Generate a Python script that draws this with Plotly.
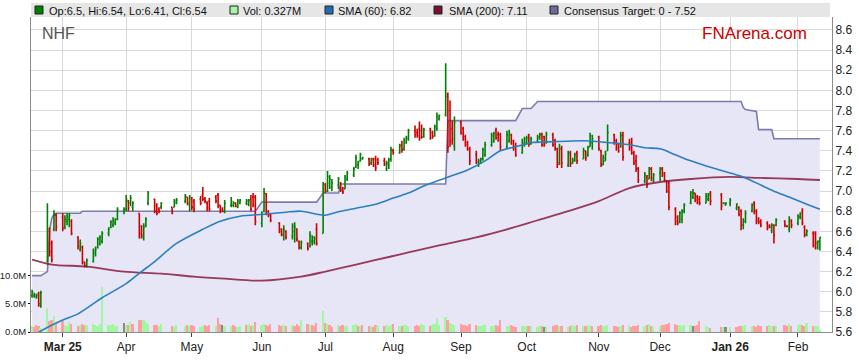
import plotly.graph_objects as go
import pandas as pd

# ---------------- data ----------------
asx_holidays = ['2025-04-18', '2025-04-21', '2025-04-25', '2025-06-09',
                '2025-12-25', '2025-12-26', '2026-01-01', '2026-01-26']
dates = pd.bdate_range('2025-02-17', '2026-02-12', freq='C', holidays=asx_holidays)

open_ = [
    5.96, 5.96, 5.95, 5.98, 5.86, 6.30, 6.60, 6.48, 6.62, 6.76,
    6.74, 6.64, 6.70, 6.72, 6.70, 6.54, 6.42, 6.44, 6.29, 6.26, 6.30, 6.38, 6.44, 6.48, 6.50, 6.58, 6.64, 6.66, 6.68, 6.72, 6.80,
    6.82, 6.90, 6.88, 6.84, 6.78, 6.65, 6.54, 6.66, 6.88, 6.92, 6.86, 6.82, 6.84, 6.84, 6.84, 6.88, 6.90, 6.94, 6.86,
    6.92, 6.90, 6.92, 6.96, 6.92, 6.88, 6.90, 6.94, 6.96, 6.86, 6.82, 6.80, 6.86, 6.86, 6.88, 6.84, 6.88, 6.88, 6.87, 6.92, 6.94, 6.94,
    6.68, 6.80, 6.97, 6.80, 6.77, 6.68, 6.62, 6.56, 6.60, 6.55, 6.60, 6.62, 6.50, 6.44, 6.48, 6.45, 6.50, 6.50, 6.62, 6.58,
    7.06, 7.00, 7.08, 7.04, 7.06, 7.08, 7.03, 7.02, 7.12, 7.16, 7.24, 7.26, 7.30, 7.32, 7.32, 7.28, 7.32, 7.32, 7.31, 7.30, 7.22, 7.26, 7.32,
    7.40, 7.38, 7.46, 7.42, 7.48, 7.52, 7.60, 7.58, 7.62, 7.60, 7.54, 7.62, 7.58, 7.55, 7.62, 7.72, 7.76, 7.96, 7.80, 7.62, 7.45,
    7.68, 7.62, 7.54, 7.48, 7.42, 7.36, 7.26, 7.28, 7.32, 7.36, 7.46, 7.50, 7.60, 7.56, 7.56, 7.44, 7.50, 7.56, 7.50, 7.42, 7.38, 7.46,
    7.48, 7.56, 7.47, 7.50, 7.52, 7.57, 7.54, 7.48, 7.56, 7.50, 7.42, 7.28, 7.42, 7.26, 7.38, 7.28, 7.30, 7.38, 7.32, 7.40, 7.36, 7.44, 7.48,
    7.54, 7.40, 7.26, 7.30, 7.40, 7.56, 7.50, 7.46, 7.44, 7.56, 7.48, 7.48, 7.38, 7.30, 7.22, 7.10, 7.14, 7.12, 7.22, 7.10,
    7.18, 7.22, 7.18, 7.10, 7.08, 6.82, 6.74, 6.70, 6.72, 6.80, 6.88, 6.94, 6.98, 6.94, 6.92, 6.88, 6.92, 6.98, 6.96, 6.88, 6.86,
    6.88, 6.83, 6.84, 6.80, 6.66, 6.70, 6.80, 6.88, 6.80, 6.72, 6.70, 6.68, 6.65, 6.61, 6.66, 6.66, 6.70, 6.65, 6.62, 6.70,
    6.68, 6.74, 6.80, 6.64, 6.56, 6.58, 6.58, 6.44, 6.50,
]
high = [
    6.02, 5.99, 5.98, 6.00, 6.01, 6.88, 6.64, 6.51, 6.81, 6.78,
    6.78, 6.76, 6.78, 6.78, 6.72, 6.55, 6.52, 6.46, 6.30, 6.33, 6.43, 6.45, 6.54, 6.56, 6.60, 6.64, 6.71, 6.74, 6.73, 6.84, 6.84,
    6.96, 6.91, 6.96, 6.90, 6.78, 6.66, 6.68, 6.74, 7.00, 6.92, 6.88, 6.84, 6.89, 6.84, 6.92, 6.93, 6.97, 6.94, 6.96,
    6.94, 6.92, 6.95, 7.04, 6.94, 6.90, 6.93, 6.96, 6.98, 6.86, 6.84, 6.91, 6.94, 6.90, 6.89, 6.92, 6.92, 6.92, 6.92, 6.96, 6.98, 6.96,
    6.80, 7.03, 6.98, 6.81, 6.78, 6.69, 6.63, 6.66, 6.61, 6.68, 6.69, 6.63, 6.51, 6.51, 6.49, 6.60, 6.56, 6.55, 6.68, 7.09,
    7.08, 7.20, 7.16, 7.12, 7.14, 7.09, 7.04, 7.16, 7.20, 7.24, 7.36, 7.30, 7.38, 7.34, 7.33, 7.33, 7.33, 7.35, 7.33, 7.33, 7.30, 7.33, 7.44,
    7.42, 7.47, 7.50, 7.53, 7.55, 7.62, 7.65, 7.62, 7.69, 7.66, 7.63, 7.63, 7.60, 7.66, 7.78, 7.76, 8.27, 7.98, 7.90, 7.70, 7.74,
    7.70, 7.64, 7.56, 7.50, 7.44, 7.40, 7.32, 7.33, 7.43, 7.49, 7.58, 7.59, 7.63, 7.59, 7.58, 7.60, 7.61, 7.57, 7.51, 7.48, 7.52, 7.54,
    7.55, 7.57, 7.54, 7.56, 7.58, 7.58, 7.55, 7.59, 7.58, 7.52, 7.43, 7.47, 7.45, 7.40, 7.40, 7.33, 7.38, 7.40, 7.43, 7.40, 7.45, 7.58, 7.56,
    7.55, 7.41, 7.36, 7.40, 7.66, 7.57, 7.52, 7.48, 7.59, 7.59, 7.52, 7.53, 7.40, 7.36, 7.24, 7.19, 7.16, 7.24, 7.24, 7.18,
    7.24, 7.24, 7.19, 7.11, 7.10, 6.84, 6.76, 6.80, 6.82, 6.88, 7.00, 7.02, 6.98, 6.96, 6.95, 6.98, 6.98, 7.00, 6.98, 6.89, 6.89,
    6.93, 6.88, 6.85, 6.82, 6.73, 6.81, 6.88, 6.90, 6.82, 6.74, 6.72, 6.70, 6.67, 6.68, 6.67, 6.73, 6.71, 6.66, 6.75, 6.72,
    6.77, 6.79, 6.83, 6.66, 6.62, 6.60, 6.60, 6.51, 6.54,
]
low = [
    5.94, 5.94, 5.93, 5.85, 5.84, 6.29, 6.35, 6.29, 6.60, 6.60,
    6.60, 6.62, 6.66, 6.64, 6.56, 6.42, 6.40, 6.27, 6.24, 6.24, 6.29, 6.35, 6.43, 6.46, 6.48, 6.55, 6.63, 6.64, 6.66, 6.71, 6.77,
    6.80, 6.80, 6.85, 6.80, 6.53, 6.53, 6.51, 6.64, 6.86, 6.78, 6.76, 6.78, 6.82, 6.77, 6.84, 6.87, 6.88, 6.86, 6.80,
    6.81, 6.79, 6.86, 6.90, 6.88, 6.80, 6.80, 6.88, 6.83, 6.78, 6.79, 6.78, 6.84, 6.84, 6.84, 6.83, 6.87, 6.86, 6.85, 6.80, 6.84, 6.66,
    6.64, 6.79, 6.76, 6.74, 6.69, 6.58, 6.55, 6.51, 6.52, 6.52, 6.49, 6.50, 6.42, 6.42, 6.41, 6.44, 6.46, 6.47, 6.46, 6.58,
    6.98, 6.99, 7.02, 7.00, 7.02, 6.99, 6.97, 7.02, 7.10, 7.14, 7.23, 7.22, 7.29, 7.31, 7.25, 7.26, 7.24, 7.20, 7.26, 7.25, 7.20, 7.22, 7.29,
    7.36, 7.37, 7.38, 7.40, 7.47, 7.50, 7.53, 7.53, 7.50, 7.52, 7.53, 7.51, 7.52, 7.54, 7.60, 7.70, 7.74, 7.38, 7.44, 7.46, 7.40,
    7.56, 7.50, 7.44, 7.40, 7.26, 7.27, 7.24, 7.27, 7.30, 7.34, 7.44, 7.48, 7.51, 7.49, 7.40, 7.42, 7.48, 7.46, 7.40, 7.34, 7.37, 7.44,
    7.46, 7.44, 7.46, 7.48, 7.51, 7.44, 7.44, 7.47, 7.44, 7.40, 7.23, 7.26, 7.23, 7.24, 7.24, 7.27, 7.29, 7.27, 7.32, 7.30, 7.34, 7.44, 7.41,
    7.40, 7.24, 7.26, 7.30, 7.40, 7.46, 7.40, 7.38, 7.43, 7.30, 7.40, 7.36, 7.26, 7.19, 7.08, 7.08, 7.03, 7.12, 7.10, 7.09,
    7.10, 7.14, 7.09, 6.98, 6.81, 6.66, 6.66, 6.68, 6.68, 6.78, 6.87, 6.92, 6.89, 6.87, 6.86, 6.88, 6.90, 6.86, 6.81, 6.87, 6.86,
    6.85, 6.81, 6.75, 6.61, 6.62, 6.68, 6.79, 6.77, 6.67, 6.67, 6.64, 6.61, 6.63, 6.58, 6.48, 6.65, 6.64, 6.64, 6.59, 6.63,
    6.66, 6.72, 6.66, 6.54, 6.55, 6.44, 6.42, 6.42, 6.41,
]
close = [
    6.00, 5.97, 5.96, 5.88, 5.99, 6.62, 6.40, 6.32, 6.76, 6.64,
    6.63, 6.72, 6.75, 6.76, 6.58, 6.45, 6.48, 6.30, 6.26, 6.31, 6.40, 6.42, 6.52, 6.54, 6.58, 6.62, 6.69, 6.70, 6.72, 6.82, 6.82,
    6.92, 6.83, 6.93, 6.88, 6.58, 6.56, 6.64, 6.72, 6.98, 6.80, 6.78, 6.80, 6.88, 6.78, 6.90, 6.91, 6.95, 6.88, 6.94,
    6.84, 6.82, 6.88, 6.92, 6.90, 6.83, 6.82, 6.90, 6.85, 6.80, 6.80, 6.88, 6.90, 6.88, 6.85, 6.90, 6.91, 6.90, 6.91, 6.82, 6.86, 6.70,
    6.77, 6.98, 6.80, 6.76, 6.71, 6.60, 6.57, 6.62, 6.54, 6.65, 6.64, 6.52, 6.44, 6.49, 6.43, 6.56, 6.54, 6.53, 6.48, 7.02,
    7.00, 7.14, 7.12, 7.08, 7.12, 7.01, 6.99, 7.14, 7.18, 7.22, 7.33, 7.28, 7.36, 7.33, 7.27, 7.31, 7.26, 7.23, 7.28, 7.27, 7.28, 7.31, 7.41,
    7.38, 7.45, 7.41, 7.50, 7.53, 7.60, 7.56, 7.55, 7.53, 7.54, 7.61, 7.53, 7.54, 7.64, 7.74, 7.75, 7.94, 7.44, 7.50, 7.52, 7.68,
    7.58, 7.52, 7.46, 7.42, 7.30, 7.29, 7.30, 7.32, 7.41, 7.46, 7.55, 7.57, 7.53, 7.51, 7.44, 7.56, 7.58, 7.48, 7.44, 7.36, 7.48, 7.52,
    7.53, 7.47, 7.52, 7.54, 7.56, 7.46, 7.46, 7.56, 7.46, 7.42, 7.26, 7.42, 7.28, 7.36, 7.27, 7.31, 7.36, 7.30, 7.40, 7.33, 7.43, 7.55, 7.52,
    7.42, 7.27, 7.33, 7.37, 7.58, 7.48, 7.43, 7.40, 7.55, 7.34, 7.43, 7.38, 7.28, 7.22, 7.11, 7.16, 7.06, 7.22, 7.13, 7.16,
    7.22, 7.16, 7.11, 7.00, 6.84, 6.70, 6.68, 6.78, 6.80, 6.86, 6.98, 6.98, 6.91, 6.89, 6.88, 6.95, 6.96, 6.90, 6.85, 6.88, 6.88,
    6.91, 6.87, 6.77, 6.66, 6.70, 6.78, 6.86, 6.80, 6.70, 6.69, 6.66, 6.63, 6.64, 6.66, 6.56, 6.71, 6.66, 6.65, 6.72, 6.66,
    6.75, 6.78, 6.68, 6.57, 6.60, 6.46, 6.48, 6.50, 6.54,
]
volume_m = [
    1.0, 0.8, 1.2, 1.1, 0.7, 4.2, 1.9, 2.1, 2.8, 1.6,
    1.9, 1.3, 1.1, 1.7, 1.4, 1.0, 1.3, 1.4, 1.2, 1.3, 1.5, 1.2, 1.0, 1.4, 8.0, 1.3, 1.2, 1.5, 1.1, 1.0, 1.6,
    1.3, 1.3, 1.7, 1.5, 2.2, 2.1, 2.2, 1.8, 1.5, 1.2, 1.3, 1.0, 1.4, 1.1, 0.9, 1.2, 1.0, 1.3, 1.1,
    1.2, 1.0, 0.8, 1.1, 1.3, 1.0, 1.2, 1.1, 2.5, 1.4, 1.2, 1.0, 1.1, 1.3, 1.0, 0.9, 1.1, 1.2, 1.4, 1.0, 1.2, 1.8,
    1.3, 1.5, 1.2, 1.0, 1.4, 1.2, 1.0, 1.3, 1.1, 1.2, 1.0, 1.4, 1.1, 2.2, 1.5, 1.3, 1.2, 1.1, 1.6, 3.8,
    1.6, 1.4, 1.2, 0.9, 1.2, 1.0, 1.3, 1.1, 1.0, 1.2, 1.5, 1.1, 1.0, 1.3, 1.1, 1.0, 0.9, 1.2, 1.0, 1.1, 1.3, 1.0, 1.2,
    1.5, 1.1, 1.0, 1.3, 1.2, 1.1, 1.0, 1.2, 1.1, 1.4, 1.2, 1.1, 1.3, 1.5, 2.4, 1.2, 2.6, 2.2, 1.6, 1.4, 1.3,
    1.4, 1.2, 1.3, 1.1, 1.5, 1.2, 1.0, 1.1, 1.2, 1.3, 1.1, 1.0, 1.2, 1.1, 2.2, 1.1, 1.0, 1.2, 1.0, 0.9, 1.1, 1.0,
    1.0, 1.1, 1.0, 0.9, 1.0, 1.1, 0.8, 1.0, 1.1, 1.2, 1.3, 1.0, 1.1, 0.9, 1.0, 1.2, 1.0, 1.3, 1.1, 1.0, 1.1, 1.2, 1.0,
    1.1, 1.3, 1.0, 1.1, 1.2, 1.0, 1.1, 0.9, 1.0, 1.2, 1.1, 0.9, 1.0, 1.1, 1.3, 1.0, 1.2, 1.4, 1.0, 1.1,
    1.1, 1.2, 1.3, 1.4, 1.6, 1.5, 1.3, 1.2, 1.1, 1.3, 1.2, 1.1, 1.0, 1.2, 1.9, 1.0, 0.8, 0.7, 0.8, 0.9, 0.8,
    0.8, 0.9, 1.0, 1.1, 1.0, 1.2, 1.1, 1.0, 0.9, 1.2, 1.0, 1.1, 1.3, 1.0, 1.1, 1.0, 1.2, 1.0, 1.4, 1.1,
    1.3, 1.5, 1.2, 1.1, 1.6, 1.0, 1.1, 1.0, 0.327,
]

sma60_dates = ['2025-02-17', '2025-02-21', '2025-03-03', '2025-03-10', '2025-03-21', '2025-04-01',
               '2025-04-08', '2025-04-14', '2025-04-24', '2025-05-06', '2025-05-14', '2025-05-23',
               '2025-06-03', '2025-06-13', '2025-06-20', '2025-06-27', '2025-07-01', '2025-07-08',
               '2025-07-15', '2025-07-24', '2025-08-01', '2025-08-08', '2025-08-15', '2025-08-25',
               '2025-09-04', '2025-09-12', '2025-09-19', '2025-09-26', '2025-10-03', '2025-10-13',
               '2025-10-27', '2025-11-03', '2025-11-17', '2025-11-24', '2025-12-01', '2025-12-08',
               '2025-12-15', '2025-12-22', '2026-01-02', '2026-01-09', '2026-01-16', '2026-01-23',
               '2026-01-30', '2026-02-06', '2026-02-12']
sma60_vals = [5.55, 5.61, 5.72, 5.78, 5.94, 6.08,
              6.20, 6.30, 6.48, 6.62, 6.70, 6.75,
              6.77, 6.79, 6.80, 6.77, 6.76, 6.80,
              6.83, 6.87, 6.93, 6.98, 7.05, 7.13,
              7.21, 7.30, 7.40, 7.44, 7.48, 7.49,
              7.50, 7.49, 7.46, 7.43, 7.42, 7.36,
              7.30, 7.25, 7.18, 7.13, 7.06, 6.99,
              6.93, 6.87, 6.82]

sma200_dates = ['2025-02-17', '2025-02-26', '2025-03-14', '2025-03-31', '2025-04-17', '2025-05-02',
                '2025-05-16', '2025-06-02', '2025-06-20', '2025-07-01', '2025-07-15', '2025-07-31',
                '2025-08-08', '2025-08-22', '2025-09-08', '2025-09-22', '2025-10-06', '2025-10-20',
                '2025-11-03', '2025-11-17', '2025-12-01', '2025-12-15', '2026-01-02', '2026-01-16',
                '2026-02-02', '2026-02-12']
sma200_vals = [6.32, 6.27, 6.25, 6.20, 6.18, 6.15,
               6.13, 6.11, 6.15, 6.20, 6.27, 6.35,
               6.39, 6.46, 6.54, 6.62, 6.71, 6.80,
               6.90, 7.03, 7.09, 7.12, 7.14, 7.13,
               7.12, 7.11]

target_dates = ['2025-02-17', '2025-02-21', '2025-02-24', '2025-02-25', '2025-02-26', '2025-02-27',
                '2025-02-28', '2025-03-11', '2025-03-12', '2025-05-30', '2025-06-02', '2025-06-27',
                '2025-06-30', '2025-07-07', '2025-07-08', '2025-08-25', '2025-08-26', '2025-09-26',
                '2025-09-29', '2025-10-03', '2025-10-06', '2026-01-07', '2026-01-08', '2026-01-09',
                '2026-01-14', '2026-01-15', '2026-01-21', '2026-01-22', '2026-02-12']
target_vals = [6.16, 6.16, 6.20, 6.62, 6.73, 6.77,
               6.78, 6.78, 6.80, 6.80, 6.89, 6.89,
               6.98, 6.98, 7.07, 7.07, 7.70, 7.70,
               7.82, 7.82, 7.89, 7.89, 7.83, 7.81,
               7.79, 7.61, 7.61, 7.52, 7.52]

month_ticks = ['2025-03-03', '2025-04-01', '2025-05-01', '2025-06-02', '2025-07-01', '2025-08-01',
               '2025-09-01', '2025-10-01', '2025-11-03', '2025-12-01', '2026-01-02', '2026-02-02']
month_labels = ['<b>Mar 25</b>', 'Apr', 'May', 'Jun', 'Jul', 'Aug',
                'Sep', 'Oct', 'Nov', 'Dec', '<b>Jan 26</b>', 'Feb']

# ---------------- figure ----------------
W, H = 859, 363
ML, MR, MT, MB = 31, 27, 17, 31
PW, PH = W - ML - MR, H - MT - MB


def fx(px):
    return (px - ML) / PW


def fy(py):
    return (H - MB - py) / PH


FONT = 'Liberation Sans, Arial, sans-serif'
PRICE_RANGE = [5.6, 8.729]

vol_colors = []
for i, c in enumerate(close):
    prev = close[i - 1] if i > 0 else open_[i]
    if c > prev:
        vol_colors.append('#a3f7a3')
    elif c < prev:
        vol_colors.append('#ff9f9f')
    else:
        vol_colors.append('#8a8a8a')

fig = go.Figure()

fig.add_trace(go.Scatter(
    x=target_dates, y=target_vals, mode='lines', fill='tozeroy',
    fillcolor='#e6e6f6', line=dict(color='#7c7cac', width=1.6),
    yaxis='y', showlegend=False, hoverinfo='skip'))

fig.add_trace(go.Bar(
    x=dates, y=[v * 1e6 for v in volume_m], marker=dict(color=vol_colors, line=dict(width=0)),
    width=0.8 * 86400000, yaxis='y2', showlegend=False, hoverinfo='skip'))

fig.add_trace(go.Scatter(
    x=sma200_dates, y=sma200_vals, mode='lines', line=dict(color='#8a1c40', width=1.8, shape='spline', smoothing=0.8),
    opacity=0.85, yaxis='y3', showlegend=False, hoverinfo='skip'))

fig.add_trace(go.Scatter(
    x=sma60_dates, y=sma60_vals, mode='lines', line=dict(color='#2b7fc1', width=1.6, shape='spline', smoothing=0.8),
    yaxis='y3', showlegend=False, hoverinfo='skip'))

fig.add_trace(go.Ohlc(
    x=dates, open=open_, high=high, low=low, close=close,
    increasing=dict(line=dict(color='#008000', width=1.6)),
    decreasing=dict(line=dict(color='#d00000', width=1.6)),
    tickwidth=0.5, yaxis='y3', showlegend=False, hoverinfo='skip'))

# legend band and items
shapes = [dict(type='rect', xref='paper', yref='paper', x0=fx(31), x1=fx(830), y0=fy(17), y1=fy(3),
               fillcolor='#e6e6e6', line=dict(width=0), layer='below')]
legend_items = [
    (35, 47, '#008000', 'Op:6.5, Hi:6.54, Lo:6.41, Cl:6.54'),
    (230, 241, '#a3f7a3', 'Vol: 0.327M'),
    (325, 336, '#1f6db0', 'SMA (60): 6.82'),
    (434, 447, '#7a1030', 'SMA (200): 7.11'),
    (550, 562, '#6c6c9c', 'Consensus Target: 0 - 7.52'),
]
annotations = []
for ix, tx, col, label in legend_items:
    shapes.append(dict(type='rect', xref='paper', yref='paper', x0=fx(ix), x1=fx(ix + 8),
                       y0=fy(14), y1=fy(6), fillcolor=col, line=dict(color='#222222', width=1)))
    annotations.append(dict(text=label, xref='paper', yref='paper', x=fx(tx), y=fy(10.5),
                            xanchor='left', yanchor='middle', showarrow=False,
                            font=dict(family=FONT, size=11, color='#111111')))

annotations.append(dict(text='NHF', xref='paper', yref='paper', x=fx(40), y=fy(33),
                        xanchor='left', yanchor='middle', showarrow=False,
                        font=dict(family=FONT, size=16, color='#555555')))
annotations.append(dict(text='FNArena.com', xref='paper', yref='paper', x=fx(809), y=fy(33),
                        xanchor='right', yanchor='middle', showarrow=False,
                        font=dict(family=FONT, size=17, color='#cc0000')))

fig.update_layout(
    width=W, height=H,
    margin=dict(l=ML, r=MR, t=MT, b=MB, pad=0, autoexpand=False),
    paper_bgcolor='white', plot_bgcolor='white',
    font=dict(family=FONT, size=12, color='#222222'),
    showlegend=False, bargap=0,
    shapes=shapes, annotations=annotations,
    xaxis=dict(
        type='date', range=['2025-02-16 12:00', '2026-02-17 13:00'],
        tickvals=month_ticks, ticktext=month_labels,
        showgrid=True, gridcolor='#d9d9d9', gridwidth=1,
        ticks='outside', ticklen=4, tickcolor='#444444',
        showline=True, linecolor='#8c8c8c', linewidth=1,
        tickfont=dict(family=FONT, size=12, color='#222222'),
        rangeslider=dict(visible=False), zeroline=False, fixedrange=True, automargin=False),
    yaxis=dict(
        side='right', range=PRICE_RANGE, tick0=5.6, dtick=0.2, tickformat='.1f',
        showgrid=True, gridcolor='#d9d9d9', gridwidth=1,
        showline=True, linecolor='#8c8c8c', linewidth=1, ticks='', ticklen=0,
        ticklabeloverflow='allow',
        tickfont=dict(family=FONT, size=12, color='#222222'), zeroline=False, automargin=False),
    yaxis2=dict(
        overlaying='y', side='left', range=[0, 55.8e6],
        tickvals=[0, 5e6, 10e6], ticktext=['0.0M', '5.0M', '10.0M'],
        showgrid=False, showline=True, linecolor='#8c8c8c', linewidth=1,
        ticks='outside', ticklen=2, tickcolor='#111111', ticklabeloverflow='allow',
        tickfont=dict(family=FONT, size=9.5, color='#222222'), zeroline=False, automargin=False),
    yaxis3=dict(overlaying='y', range=PRICE_RANGE, visible=False),
)

fig.write_html('out.html', config={'displayModeBar': False},
               post_script="document.body.style.margin='0';document.body.style.padding='0';")
